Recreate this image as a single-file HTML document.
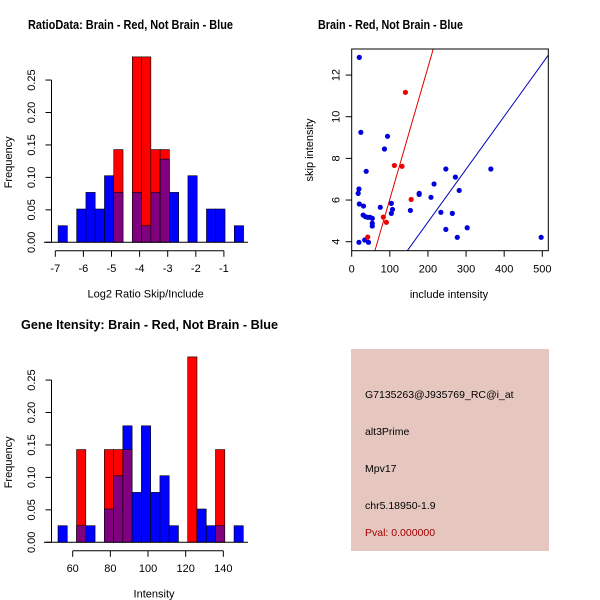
<!DOCTYPE html>
<html><head><meta charset="utf-8"><style>
body{margin:0;background:#fff}
svg{display:block;font-family:"Liberation Sans",sans-serif}
</style></head><body>
<svg id="s" width="600" height="600" viewBox="0 0 600 600" xmlns="http://www.w3.org/2000/svg">
<rect width="600" height="600" fill="#fff"/>
<text x="28" y="29" font-size="12.5" font-weight="bold" textLength="205" lengthAdjust="spacingAndGlyphs">RatioData: Brain - Red, Not Brain - Blue</text>
<text x="318" y="29" font-size="12.5" font-weight="bold" textLength="145" lengthAdjust="spacingAndGlyphs">Brain - Red, Not Brain - Blue</text>
<text x="21" y="329" font-size="12.5" font-weight="bold" textLength="257" lengthAdjust="spacingAndGlyphs">Gene Itensity: Brain - Red, Not Brain - Blue</text>
<g id="g1"></g>
<g id="g2"></g>
<g id="g3"></g>
<g>
<rect x="351" y="349" width="198" height="202" fill="#e6c7c0"/>
<text x="365" y="398" font-size="10.5">G7135263@J935769_RC@i_at</text>
<text x="365" y="435" font-size="10.5">alt3Prime</text>
<text x="365" y="472" font-size="10.5">Mpv17</text>
<text x="365" y="509" font-size="10.5">chr5.18950-1.9</text>
<text x="365" y="536" font-size="10.5" fill="#a00000">Pval: 0.000000</text>
</g>
</svg>
<script>
// Ratio histogram data (bin index -> frequency)
const ratioBinStart=-6.9, ratioBinWidth=0.33;
const ratioBlueBins=[0,2,3,4,5,6,8,9,10,11,12,14,16,17,19];
const ratioBlueVals=[0.0256,0.0513,0.0769,0.0513,0.1026,0.0769,0.0769,0.0256,0.0769,0.1282,0.0769,0.1026,0.0513,0.0513,0.0256];
const ratioRedBins=[6,8,9,10,11];
const ratioRedVals=[0.1429,0.2857,0.2857,0.1429,0.1429];
const ratioXTicks=[-7,-6,-5,-4,-3,-2,-1];
// Intensity histogram data
const intBinStart=52.2, intBinWidth=4.92;
const intBlueBins=[0,2,3,5,6,7,8,9,10,11,12,15,16,17,19];
const intBlueVals=[0.0256,0.0256,0.0256,0.0513,0.1026,0.1795,0.0769,0.1795,0.0769,0.1026,0.0256,0.0513,0.0256,0.0256,0.0256];
const intRedBins=[2,5,6,7,14,17];
const intRedVals=[0.1429,0.1429,0.1429,0.1429,0.2857,0.1429];
const intXTicks=[60,80,100,120,140];
const freqTicks=[0,0.05,0.10,0.15,0.20,0.25];
// Scatter data
const blueX=[20,24,94,86,38,19,17,20,31,30,36,42,48,54,54,54,19,34,44,75,104,107,104,154,177,177,208,216,247,272,282,234,264,247,277,303,365,497];
const blueY=[12.85,9.25,9.06,8.45,7.38,6.53,6.32,5.81,5.71,5.28,5.2,5.17,5.17,5.12,4.88,4.75,3.97,4.08,3.97,5.65,5.84,5.55,5.36,5.5,6.32,6.27,6.13,6.77,7.49,7.1,6.46,5.41,5.36,4.59,4.21,4.67,7.49,4.21];
const redX=[141,112,132,156,83,91,42];
const redY=[11.17,7.66,7.62,6.03,5.18,4.93,4.22];
const redFit=[-0.29,0.0633];
const blueFit=[-0.135,0.02538];
const scXTicks=[0,100,200,300,400,500];
const scYTicks=[4,6,8,10,12];

const NS="http://www.w3.org/2000/svg";
function mk(p,tag,a,txt){const e=document.createElementNS(NS,tag);for(const k in a)e.setAttribute(k,a[k]);if(txt!==undefined)e.textContent=txt;p.appendChild(e);return e;}

function hist(g,y0,x0v,x0p,ppu,bs,bw,bb,bv,rb,rv,xt,xlab){
  const yS=v=>y0-v*649;const xS=v=>x0p+(v-x0v)*ppu;
  const all={};bb.forEach((b,i)=>{all[b]=all[b]||{};all[b].b=bv[i];});rb.forEach((b,i)=>{all[b]=all[b]||{};all[b].r=rv[i];});
  for(const k in all){const o=all[k];const xl=xS(bs+k*bw),xr=xS(bs+(+k+1)*bw);
    const r=o.r||0,b=o.b||0;const mx=Math.max(r,b),mn=Math.min(r,b);
    const top=mk(g,'rect',{x:xl,y:yS(mx),width:xr-xl,height:yS(0)-yS(mx),fill:r>b?'#ff0000':'#0000ff',stroke:'#000','stroke-width':0.6});
    
    
    if(r>0&&b>0){const p=mk(g,'rect',{x:xl,y:yS(mn),width:xr-xl,height:yS(0)-yS(mn),fill:'#800080',stroke:'#000','stroke-width':0.6});
      
      }
  }
  mk(g,'line',{x1:44,x2:248,y1:y0,y2:y0,stroke:'#000'});
  const ax=51.5;mk(g,'line',{x1:ax,x2:ax,y1:yS(0),y2:yS(0.25),stroke:'#000'});
  freqTicks.forEach(t=>{const y=yS(t);mk(g,'line',{x1:ax-6,x2:ax,y1:y,y2:y,stroke:'#000'});
    mk(g,'text',{x:0,y:0,transform:`translate(35,${y}) rotate(-90)`,'font-size':11,'text-anchor':'middle'},t.toFixed(2));});
  mk(g,'text',{x:0,y:0,transform:`translate(12,${y0-80}) rotate(-90)`,'font-size':11,'text-anchor':'middle'},'Frequency');
  const ay=y0+8.5;mk(g,'line',{x1:xS(xt[0]),x2:xS(xt[xt.length-1]),y1:ay,y2:ay,stroke:'#000'});
  xt.forEach(t=>{const x=xS(t);mk(g,'line',{x1:x,x2:x,y1:ay,y2:ay+6,stroke:'#000'});
    mk(g,'text',{x:x,y:ay+21,'font-size':11,'text-anchor':'middle'},String(t));});
  mk(g,'text',{x:(xS(xt[0])+xS(xt[xt.length-1]))/2+6,y:y0+55,'font-size':11,'text-anchor':'middle'},xlab);
}
hist(document.getElementById('g1'),242.3,-7,55.3,28.1,ratioBinStart,ratioBinWidth,ratioBlueBins,ratioBlueVals,ratioRedBins,ratioRedVals,ratioXTicks,'Log2 Ratio Skip/Include');
hist(document.getElementById('g2'),542.3,60,72.7,1.883,intBinStart,intBinWidth,intBlueBins,intBlueVals,intRedBins,intRedVals,intXTicks,'Intensity');

(function(){
  const g=document.getElementById('g3');
  const L=351.7,R=548.3,T=49,B=250.7;
  const xS=v=>351.7+v*0.3812;const yS=v=>241.7-(v-4)*20.83;
  mk(g,'defs',{}).innerHTML='<clipPath id="cp"><rect x="'+L+'" y="'+T+'" width="'+(R-L)+'" height="'+(B-T)+'"/></clipPath>';
  const lg=mk(g,'g',{'clip-path':'url(#cp)'});
  [[redFit,'#dd0000','red-fit-line'],[blueFit,'#0000bb','blue-fit-line']].forEach(([f,c,n])=>{
    const l=mk(lg,'line',{x1:xS(-50),y1:yS(f[0]+f[1]*-50),x2:xS(600),y2:yS(f[0]+f[1]*600),stroke:c,'stroke-width':1});
    
    });
  blueX.forEach((x,i)=>{const c=mk(g,'circle',{cx:xS(x),cy:yS(blueY[i]),r:2.6,fill:'#0000dd'});
    
    });
  redX.forEach((x,i)=>{const c=mk(g,'circle',{cx:xS(x),cy:yS(redY[i]),r:2.6,fill:'#ee0000'});
    
    });
  mk(g,'rect',{x:L,y:T,width:R-L,height:B-T,fill:'none',stroke:'#000'});
  scXTicks.forEach(t=>{const x=xS(t);mk(g,'line',{x1:x,x2:x,y1:B,y2:B+6,stroke:'#000'});
    mk(g,'text',{x:x,y:B+22,'font-size':11,'text-anchor':'middle'},String(t));});
  scYTicks.forEach(t=>{const y=yS(t);mk(g,'line',{x1:L-6,x2:L,y1:y,y2:y,stroke:'#000'});
    mk(g,'text',{x:0,y:0,transform:`translate(${L-12},${y}) rotate(-90)`,'font-size':11,'text-anchor':'middle'},String(t));});
  mk(g,'text',{x:449,y:298,'font-size':11,'text-anchor':'middle'},'include intensity');
  mk(g,'text',{x:0,y:0,transform:`translate(313,150) rotate(-90)`,'font-size':11,'text-anchor':'middle'},'skip intensity');
})();
</script>
</body></html>
